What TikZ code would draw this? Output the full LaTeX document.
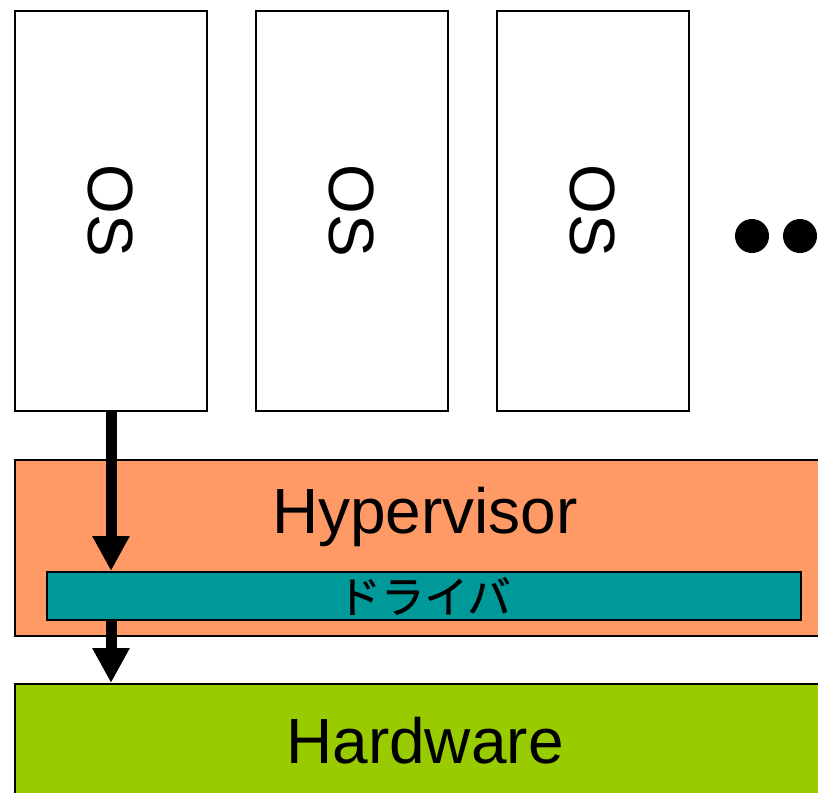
\documentclass[tikz,border=0pt]{standalone}
\usepackage{fontspec}
\setmainfont{Liberation Sans}
\newfontfamily\cjk[FakeBold=0.8]{Noto Sans CJK JP}
\usepackage{tikz}
\usetikzlibrary{positioning,arrows.meta}
\definecolor{HyperOrange}{HTML}{FF9966}
\definecolor{DriverTeal}{HTML}{009999}
\definecolor{HardGreen}{HTML}{99CC00}

\begin{document}
\begin{tikzpicture}[
  every node/.style={font=\fontsize{45.5}{54}\selectfont},
  OSB/.style={draw, fill=white, line width=1.4pt, inner sep=0pt,
              minimum width=4.8cm, minimum height=10cm},
  OST/.style={rotate=-90, inner sep=0pt},
  HV/.style={draw, fill=HyperOrange, line width=1.4pt, inner sep=0pt,
             minimum width=20.5cm, minimum height=4.4cm},
  DR/.style={draw, fill=DriverTeal, line width=1.4pt, inner sep=0pt,
             minimum width=18.85cm, minimum height=1.2cm,
             font=\cjk\fontsize{31}{36}\selectfont},
  HW/.style={draw, fill=HardGreen, line width=1.4pt, inner sep=0pt,
             minimum width=20.5cm, minimum height=4cm},
  DOT/.style={circle, fill=black, inner sep=0pt, minimum size=0.85cm},
  ar/.style={-{Triangle[length=0.875cm, width=0.875cm]}, line width=0.275cm},
]
  \useasboundingbox (0,0) rectangle (20.45,-19.8);
  \clip (0,0) rectangle (20.45,-19.8);
  \fill[white] (0,0) rectangle (20.45,-19.8);

  % guests
  \node[OSB, label={[OST]center:OS}] (os1) at (2.775,-5.275) {};
  \node[OSB, label={[OST]center:OS}, right=1.175cm of os1] (os2) {};
  \node[OSB, label={[OST]center:OS}, right=1.175cm of os2] (os3) {};
  \node[DOT] (d1) at (18.8,-5.9) {};
  \node[DOT] (d2) at (20.0,-5.9) {};

  % hypervisor + driver
  \node[HV] (hv) at (10.625,-13.7) {};
  \node[anchor=base, inner sep=0pt] (hvt) at (10.625,-13.325) {Hypervisor};
  \node[DR] (drv) at (10.6,-14.9) {ドライバ};

  % hardware
  \node[HW] (hw) at (10.625,-19.1) {};
  \node[anchor=base, inner sep=0pt] (hwt) at (10.625,-19.075) {Hardware};

  % path
  \draw[ar] (os1.south) -- (os1.south |- drv.north);
  \draw[ar] (os1.south |- drv.south) -- (os1.south |- hw.north);
\end{tikzpicture}
\end{document}
